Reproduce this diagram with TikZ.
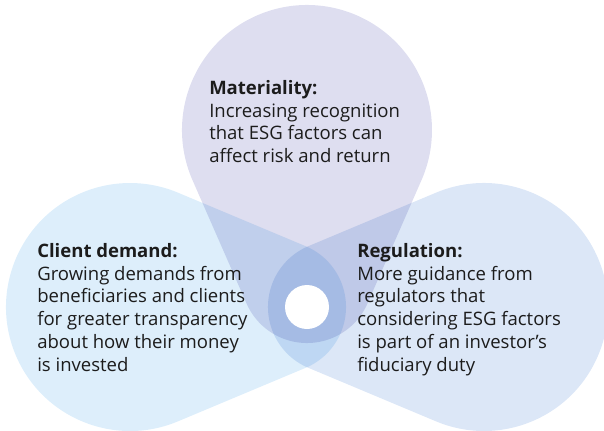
\documentclass[tikz,border=0pt]{standalone}
\usepackage{fontspec}
\setmainfont{Open Sans}
\usepackage{xcolor}

\begin{document}
\begin{tikzpicture}[x=0.75pt,y=0.75pt,yscale=-1,xscale=1,
	drop/.style={draw=none, blend mode=multiply},
	blurb/.style={anchor=north west, inner sep=0pt, align=left, text={rgb, 255:red, 28; green, 28; blue, 28}, font=\fontsize{13.9}{17.1}\selectfont}]
	\useasboundingbox (0,0) rectangle (604,430);
	
	%Shape: Drop [id:materiality drop] 
	\begin{scope}[shift={(307,130)},rotate=90]
	\fill [drop, fill={rgb, 255:red, 222; green, 222; blue, 240 }] (66.33:125) arc [start angle=66.33, end angle=293.67, radius=125] -- (173.50,-60.45) arc [start angle=-66.33, end angle=66.33, radius=66] -- cycle ;
	\end{scope}
	%Shape: Drop [id:client drop] 
	\begin{scope}[shift={(130,307)},rotate=0]
	\fill [drop, fill={rgb, 255:red, 221; green, 238; blue, 251 }] (67.25:124) arc [start angle=67.25, end angle=292.75, radius=124] -- (175.53,-60.86) arc [start angle=-67.25, end angle=67.25, radius=66] -- cycle ;
	\end{scope}
	%Shape: Drop [id:regulation drop] 
	\begin{scope}[shift={(484,307)},rotate=180]
	\fill [drop, fill={rgb, 255:red, 220; green, 231; blue, 247 }] (67.25:124) arc [start angle=67.25, end angle=292.75, radius=124] -- (175.53,-60.86) arc [start angle=-67.25, end angle=67.25, radius=66] -- cycle ;
	\end{scope}
	
	%Shape: Circle [id:hub] 
	\node (hub) [circle, fill=white, minimum size=33pt, inner sep=0pt] at (307,307) {};
	
	% Text Node
	\node (materiality) [blurb] at (209,80) {\textbf{Materiality:}\\Increasing recognition\\that ESG factors can\\affect risk and return};
	% Text Node
	\node (client) [blurb] at (37,243) {\textbf{Client demand:}\\Growing demands from\\beneficiaries and clients\\for greater transparency\\about how their money\\is invested};
	% Text Node
	\node (regulation) [blurb] at (357,243) {\textbf{Regulation:}\\More guidance from\\regulators that\\considering ESG factors\\is part of an investor’s\\fiduciary duty};
	
\end{tikzpicture}
\end{document}
